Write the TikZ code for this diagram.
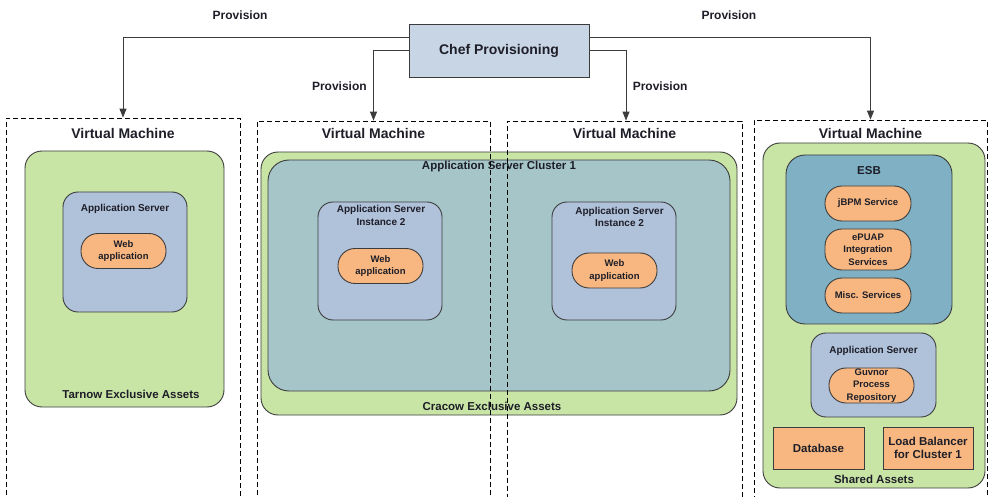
\documentclass[tikz,border=0pt]{standalone}
\usepackage{fontspec}
\setmainfont{Liberation Sans}
\usetikzlibrary{arrows.meta,positioning,calc}
\definecolor{ChefClr}{RGB}{200,213,229}
\definecolor{GreenClr}{RGB}{201,229,166}
\definecolor{ServerClr}{RGB}{176,193,218}
\definecolor{ClusterClr}{RGB}{165,197,200}
\definecolor{EsbClr}{RGB}{127,176,196}
\definecolor{AppClr}{RGB}{248,183,128}
\definecolor{LineClr}{RGB}{60,60,60}
\definecolor{TextClr}{RGB}{30,30,40}

\newcommand\fsz[2]{\fontsize{#1}{#2}\selectfont\bfseries}

\tikzset{
  box/.style={draw=LineClr, line width=0.9pt, inner sep=0pt},
  assets/.style={box, fill=GreenClr, rounded corners=17pt},
  server/.style={box, fill=ServerClr, rounded corners=15pt},
  cluster/.style={box, fill=ClusterClr, rounded corners=21pt},
  esbbox/.style={box, fill=EsbClr, rounded corners=19pt},
  app/.style={box, fill=AppClr, rounded corners=17pt, minimum width=85pt,
    minimum height=35pt, align=center, text=TextClr, font=\fsz{9.5}{12.3}},
  store/.style={box, fill=AppClr, minimum width=90pt, minimum height=42pt,
    align=center, text=TextClr, font=\fsz{11.5}{13.3}},
  vmbox/.style={draw=black, line width=0.8pt, dash pattern=on 5pt off 3pt,
    inner sep=0pt},
  vmtitle/.style={text=TextClr, font=\fsz{14}{16}},
  assettitle/.style={text=TextClr, font=\fsz{11.5}{13}},
  srvtitle/.style={text=TextClr, font=\fsz{10}{12.5}, align=center},
  provlabel/.style={text=TextClr, font=\fsz{12}{14}},
  flow/.style={draw=LineClr, line width=0.9pt, -{Triangle[width=7pt,length=9pt]}},
}

\begin{document}
\begin{tikzpicture}[x=1pt,y=-1pt]
\useasboundingbox (0,0) rectangle (989,497);
\clip (0,0) rectangle (989,497);

% provisioning
\node[box, fill=ChefClr, minimum width=180pt, minimum height=53pt,
  text=TextClr, font=\fsz{14}{16}] (chef) at (499,50.5) {Chef Provisioning};

% Tarnow
\node[assets, minimum width=199pt, minimum height=256pt] (tarnow) at (124.5,279) {};
\node[assettitle] (tarnowT) at ([xshift=6.5pt,yshift=13pt]tarnow.south) {Tarnow Exclusive Assets};
\node[server, minimum width=124pt, minimum height=120pt] (tsrv) at (125,252) {};
\node[srvtitle] (tsrvT) at ([yshift=-17pt]tsrv.north) {Application Server};
\node[app] (tweb) at (123.5,251) {Web\\application};

% Cracow
\node[assets, minimum width=476pt, minimum height=263pt] (cracow) at (499,283.5) {};
\node[assettitle] (cracowT) at ([xshift=-7pt,yshift=9pt]cracow.south) {Cracow Exclusive Assets};
\node[cluster, minimum width=462pt, minimum height=231pt] (clust) at (499,275.5) {};
\node[assettitle] (clustT) at ([yshift=-7pt]clust.north) {Application Server Cluster 1};
\node[server, minimum width=124pt, minimum height=118pt] (inst1) at (380,261) {};
\node[srvtitle] (inst1T) at (381,215.5) {Application Server\\Instance 2};
\node[app] (web1) at (380.5,266) {Web\\application};
\node[server, minimum width=124pt, minimum height=118pt] (inst2) at (614,261) {};
\node[srvtitle] (inst2T) at (619.5,217) {Application Server\\Instance 2};
\node[app] (web2) at (614.5,270.5) {Web\\application};

% shared
\node[assets, minimum width=222pt, minimum height=345pt] (shared) at (874,315.5) {};
\node[assettitle] (sharedT) at ([yshift=9pt]shared.south) {Shared Assets};
\node[esbbox, minimum width=166pt, minimum height=169pt] (esb) at (869,239.5) {};
\node[assettitle] (esbT) at ([yshift=-16pt]esb.north) {ESB};
\node[app, minimum width=86pt] (jbpm) at (868,203.5) {jBPM Service};
\node[app, minimum width=86pt, minimum height=41pt] (epuap) at (868,249.5) {ePUAP\\Integration\\Services};
\node[app, minimum width=86pt] (misc) at (868,295.5) {Misc. Services};
\node[server, minimum width=125pt, minimum height=84pt] (ssrv) at (873.5,375) {};
\node[srvtitle] (ssrvT) at ([yshift=-18pt]ssrv.north) {Application Server};
\node[app] (guvnor) at (871.5,385.5) {Guvnor\\Process\\Repository};
\node[store, minimum width=91pt] (db) at (818.5,448) {Database};
\node[store] (lb) at (928,448) {Load Balancer\\for Cluster 1};

% virtual machines
\node[vmbox, minimum width=234pt, minimum height=392pt] (vm1) at (123,314) {};
\node[vmbox, minimum width=233pt, minimum height=389pt] (vm2) at (373.5,315.5) {};
\node[vmbox, minimum width=235pt, minimum height=389pt] (vm3) at (624.5,315.5) {};
\node[vmbox, minimum width=233pt, minimum height=390pt] (vm4) at (870.5,315) {};
\node[vmtitle] (vm1T) at ([yshift=-16pt]vm1.north) {Virtual Machine};
\node[vmtitle] (vm2T) at ([yshift=-13pt]vm2.north) {Virtual Machine};
\node[vmtitle] (vm3T) at ([yshift=-13pt]vm3.north) {Virtual Machine};
\node[vmtitle] (vm4T) at ([yshift=-14pt]vm4.north) {Virtual Machine};

% provisioning arrows
\draw[flow] ([yshift=13.5pt]chef.west) -| node[provlabel, pos=.295, yshift=22pt] (prov1) {Provision} (vm1.north);
\draw[flow] (chef.west) -| node[provlabel, pos=.755, left=3pt] (prov2) {Provision} (vm2.north);
\draw[flow] (chef.east) -| node[provlabel, pos=.755, right=3pt] (prov3) {Provision} ([xshift=1.5pt]vm3.north);
\draw[flow] ([yshift=13.5pt]chef.east) -| node[provlabel, pos=.248, yshift=22pt] (prov4) {Provision} (vm4.north);

\end{tikzpicture}
\end{document}
